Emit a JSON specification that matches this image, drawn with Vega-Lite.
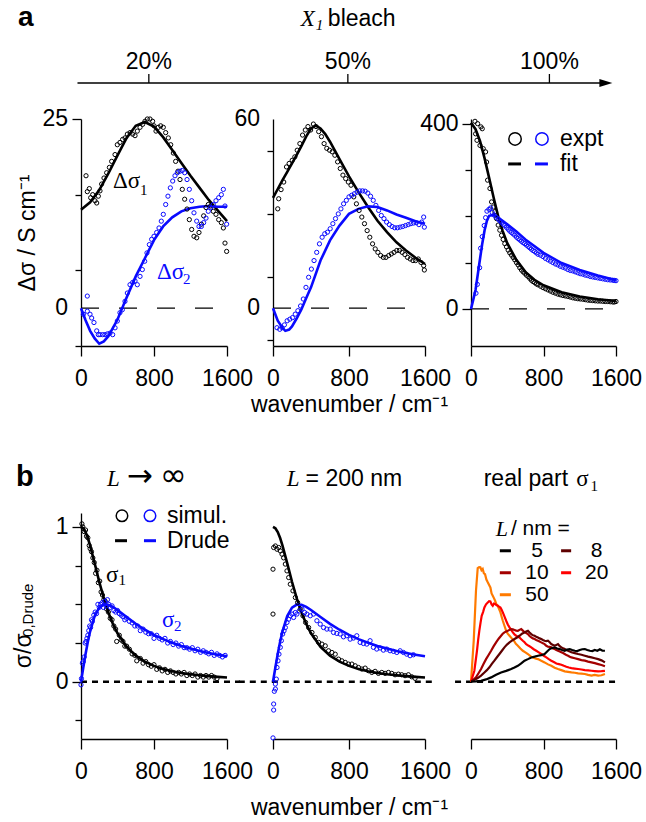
{
"$schema": "https://vega.github.io/schema/vega-lite/v6.json",
"padding": {"left": 12, "top": 3, "right": 2, "bottom": 2},
"background": "white",
"config": {
 "view": {"stroke": null},
 "font": "Liberation Sans",
 "point": {"opacity": 1},
 "text": {"font": "Liberation Sans", "fontSize": 23, "color": "black"},
 "axis": {"domainColor": "black", "domainWidth": 1.3, "tickColor": "black", "tickWidth": 1.3, "labelColor": "black", "labelFont": "Liberation Sans", "labelFontSize": 23, "titleFont": "Liberation Sans", "titleFontSize": 23, "titleFontWeight": "normal", "titleColor": "black", "grid": false}
},
"datasets": {
 "a1": [
  {"s":"e1","x":55,"y":17.5},{"s":"e1","x":69,"y":15.4},{"s":"e1","x":91,"y":15.8},{"s":"e1","x":106,"y":14.6},{"s":"e1","x":128,"y":15.0},{"s":"e1","x":153,"y":14.2},{"s":"e1","x":172,"y":13.9},{"s":"e1","x":190,"y":14.8},{"s":"e1","x":208,"y":15.5},{"s":"e1","x":226,"y":16.4},{"s":"e1","x":252,"y":17.2},{"s":"e1","x":281,"y":17.9},{"s":"e1","x":311,"y":18.6},{"s":"e1","x":336,"y":19.4},{"s":"e1","x":373,"y":20.3},{"s":"e1","x":398,"y":21.6},{"s":"e1","x":427,"y":21.9},{"s":"e1","x":456,"y":22.3},{"s":"e1","x":482,"y":22.5},{"s":"e1","x":508,"y":23.0},{"s":"e1","x":537,"y":23.2},{"s":"e1","x":566,"y":23.0},{"s":"e1","x":592,"y":22.8},{"s":"e1","x":617,"y":23.4},{"s":"e1","x":647,"y":23.9},{"s":"e1","x":676,"y":24.3},{"s":"e1","x":701,"y":24.7},{"s":"e1","x":727,"y":25.0},{"s":"e1","x":756,"y":25.0},{"s":"e1","x":785,"y":24.7},{"s":"e1","x":800,"y":24.1},{"s":"e1","x":822,"y":23.4},{"s":"e1","x":847,"y":23.9},{"s":"e1","x":873,"y":24.1},{"s":"e1","x":902,"y":23.9},{"s":"e1","x":928,"y":23.2},{"s":"e1","x":957,"y":22.5},{"s":"e1","x":983,"y":21.6},{"s":"e1","x":1012,"y":20.5},{"s":"e1","x":1037,"y":19.4},{"s":"e1","x":1063,"y":18.1},{"s":"e1","x":1085,"y":17.0},{"s":"e1","x":1110,"y":15.7},{"s":"e1","x":1136,"y":14.4},{"s":"e1","x":1162,"y":13.1},{"s":"e1","x":1187,"y":11.7},{"s":"e1","x":1213,"y":10.4},{"s":"e1","x":1238,"y":9.5},{"s":"e1","x":1268,"y":9.3},{"s":"e1","x":1293,"y":10.0},{"s":"e1","x":1319,"y":11.1},{"s":"e1","x":1344,"y":12.2},{"s":"e1","x":1370,"y":13.3},{"s":"e1","x":1395,"y":13.7},{"s":"e1","x":1421,"y":13.5},{"s":"e1","x":1450,"y":12.8},{"s":"e1","x":1479,"y":12.4},{"s":"e1","x":1509,"y":11.7},{"s":"e1","x":1538,"y":11.3},{"s":"e1","x":1560,"y":10.6},{"s":"e1","x":1578,"y":8.6},{"s":"e1","x":1596,"y":7.5},
  {"s":"e2","x":26,"y":-0.8},{"s":"e2","x":69,"y":1.6},{"s":"e2","x":69,"y":-0.4},{"s":"e2","x":99,"y":-0.8},{"s":"e2","x":117,"y":-1.3},{"s":"e2","x":142,"y":-1.9},{"s":"e2","x":172,"y":-3.0},{"s":"e2","x":190,"y":-3.5},{"s":"e2","x":208,"y":-3.5},{"s":"e2","x":237,"y":-3.5},{"s":"e2","x":263,"y":-3.5},{"s":"e2","x":289,"y":-3.4},{"s":"e2","x":318,"y":-3.3},{"s":"e2","x":347,"y":-3.5},{"s":"e2","x":373,"y":-2.6},{"s":"e2","x":398,"y":-1.7},{"s":"e2","x":427,"y":-0.6},{"s":"e2","x":453,"y":-0.2},{"s":"e2","x":482,"y":0.9},{"s":"e2","x":508,"y":2.0},{"s":"e2","x":537,"y":3.1},{"s":"e2","x":566,"y":3.4},{"s":"e2","x":592,"y":3.6},{"s":"e2","x":617,"y":3.1},{"s":"e2","x":647,"y":4.2},{"s":"e2","x":672,"y":5.1},{"s":"e2","x":698,"y":6.2},{"s":"e2","x":723,"y":7.3},{"s":"e2","x":749,"y":8.4},{"s":"e2","x":774,"y":9.1},{"s":"e2","x":800,"y":9.5},{"s":"e2","x":829,"y":10.0},{"s":"e2","x":855,"y":10.6},{"s":"e2","x":880,"y":11.5},{"s":"e2","x":902,"y":12.4},{"s":"e2","x":928,"y":13.7},{"s":"e2","x":953,"y":14.8},{"s":"e2","x":979,"y":15.9},{"s":"e2","x":1005,"y":16.8},{"s":"e2","x":1030,"y":17.5},{"s":"e2","x":1056,"y":17.9},{"s":"e2","x":1085,"y":18.1},{"s":"e2","x":1110,"y":18.2},{"s":"e2","x":1136,"y":17.9},{"s":"e2","x":1162,"y":17.0},{"s":"e2","x":1187,"y":15.7},{"s":"e2","x":1213,"y":14.2},{"s":"e2","x":1238,"y":12.6},{"s":"e2","x":1268,"y":11.5},{"s":"e2","x":1293,"y":10.8},{"s":"e2","x":1319,"y":10.8},{"s":"e2","x":1344,"y":11.3},{"s":"e2","x":1370,"y":11.9},{"s":"e2","x":1395,"y":12.8},{"s":"e2","x":1421,"y":13.3},{"s":"e2","x":1450,"y":13.7},{"s":"e2","x":1479,"y":14.2},{"s":"e2","x":1509,"y":14.6},{"s":"e2","x":1538,"y":15.0},{"s":"e2","x":1560,"y":15.7},{"s":"e2","x":1578,"y":13.5},{"s":"e2","x":1596,"y":11.1},
  {"s":"f1","x":0,"y":13.0},{"s":"f1","x":100,"y":14.0},{"s":"f1","x":200,"y":15.6},{"s":"f1","x":300,"y":17.8},{"s":"f1","x":400,"y":20.2},{"s":"f1","x":500,"y":22.5},{"s":"f1","x":600,"y":24.1},{"s":"f1","x":700,"y":24.6},{"s":"f1","x":800,"y":24.0},{"s":"f1","x":900,"y":22.6},{"s":"f1","x":1000,"y":20.9},{"s":"f1","x":1100,"y":19.2},{"s":"f1","x":1200,"y":17.5},{"s":"f1","x":1300,"y":15.9},{"s":"f1","x":1400,"y":14.3},{"s":"f1","x":1500,"y":12.9},{"s":"f1","x":1600,"y":11.5},
  {"s":"f2","x":0,"y":0},{"s":"f2","x":50,"y":-1.6},{"s":"f2","x":100,"y":-3.0},{"s":"f2","x":150,"y":-4.0},{"s":"f2","x":200,"y":-4.7},{"s":"f2","x":250,"y":-4.4},{"s":"f2","x":300,"y":-3.7},{"s":"f2","x":400,"y":-1.5},{"s":"f2","x":500,"y":1.4},{"s":"f2","x":600,"y":4.2},{"s":"f2","x":700,"y":6.6},{"s":"f2","x":800,"y":9.0},{"s":"f2","x":900,"y":10.8},{"s":"f2","x":1000,"y":12.0},{"s":"f2","x":1100,"y":12.8},{"s":"f2","x":1200,"y":13.2},{"s":"f2","x":1300,"y":13.4},{"s":"f2","x":1400,"y":13.5},{"s":"f2","x":1500,"y":13.4},{"s":"f2","x":1600,"y":13.4}
 ],
 "a2": [
  {"s":"e1","x":50,"y":31.5},{"s":"e1","x":60,"y":34.7},{"s":"e1","x":85,"y":37.6},{"s":"e1","x":113,"y":40.0},{"s":"e1","x":142,"y":44.8},{"s":"e1","x":170,"y":45.9},{"s":"e1","x":202,"y":46.9},{"s":"e1","x":230,"y":48.0},{"s":"e1","x":255,"y":50.1},{"s":"e1","x":283,"y":52.2},{"s":"e1","x":311,"y":54.9},{"s":"e1","x":340,"y":56.5},{"s":"e1","x":368,"y":57.6},{"s":"e1","x":396,"y":56.5},{"s":"e1","x":425,"y":58.4},{"s":"e1","x":453,"y":57.6},{"s":"e1","x":481,"y":56.0},{"s":"e1","x":510,"y":54.4},{"s":"e1","x":538,"y":52.2},{"s":"e1","x":566,"y":50.7},{"s":"e1","x":595,"y":50.1},{"s":"e1","x":623,"y":49.6},{"s":"e1","x":651,"y":48.5},{"s":"e1","x":680,"y":46.4},{"s":"e1","x":708,"y":44.3},{"s":"e1","x":736,"y":42.2},{"s":"e1","x":765,"y":41.1},{"s":"e1","x":793,"y":40.0},{"s":"e1","x":821,"y":39.0},{"s":"e1","x":850,"y":35.3},{"s":"e1","x":878,"y":33.1},{"s":"e1","x":906,"y":31.0},{"s":"e1","x":935,"y":28.9},{"s":"e1","x":963,"y":26.8},{"s":"e1","x":991,"y":24.6},{"s":"e1","x":1019,"y":22.5},{"s":"e1","x":1048,"y":20.4},{"s":"e1","x":1076,"y":18.8},{"s":"e1","x":1104,"y":17.7},{"s":"e1","x":1133,"y":16.7},{"s":"e1","x":1161,"y":16.1},{"s":"e1","x":1189,"y":16.1},{"s":"e1","x":1218,"y":16.7},{"s":"e1","x":1246,"y":17.2},{"s":"e1","x":1274,"y":17.7},{"s":"e1","x":1303,"y":18.3},{"s":"e1","x":1331,"y":18.3},{"s":"e1","x":1359,"y":17.7},{"s":"e1","x":1388,"y":17.0},{"s":"e1","x":1416,"y":16.1},{"s":"e1","x":1444,"y":15.6},{"s":"e1","x":1473,"y":15.1},{"s":"e1","x":1501,"y":15.1},{"s":"e1","x":1529,"y":15.6},{"s":"e1","x":1558,"y":14.5},{"s":"e1","x":1586,"y":13.5},{"s":"e1","x":1593,"y":12.1},
  {"s":"e2","x":42,"y":-6.2},{"s":"e2","x":71,"y":-6.7},{"s":"e2","x":96,"y":-6.2},{"s":"e2","x":120,"y":-5.3},{"s":"e2","x":149,"y":-4.0},{"s":"e2","x":177,"y":-3.5},{"s":"e2","x":205,"y":-3.0},{"s":"e2","x":234,"y":-1.9},{"s":"e2","x":262,"y":-0.8},{"s":"e2","x":290,"y":0.7},{"s":"e2","x":319,"y":2.9},{"s":"e2","x":347,"y":6.6},{"s":"e2","x":375,"y":9.8},{"s":"e2","x":404,"y":12.4},{"s":"e2","x":432,"y":15.1},{"s":"e2","x":460,"y":17.7},{"s":"e2","x":489,"y":20.4},{"s":"e2","x":517,"y":22.5},{"s":"e2","x":545,"y":23.6},{"s":"e2","x":573,"y":24.1},{"s":"e2","x":602,"y":25.2},{"s":"e2","x":630,"y":26.8},{"s":"e2","x":658,"y":28.4},{"s":"e2","x":687,"y":29.9},{"s":"e2","x":715,"y":31.5},{"s":"e2","x":743,"y":33.1},{"s":"e2","x":772,"y":34.2},{"s":"e2","x":800,"y":35.3},{"s":"e2","x":828,"y":35.8},{"s":"e2","x":857,"y":36.3},{"s":"e2","x":885,"y":36.8},{"s":"e2","x":913,"y":37.2},{"s":"e2","x":942,"y":37.2},{"s":"e2","x":970,"y":37.1},{"s":"e2","x":998,"y":36.5},{"s":"e2","x":1027,"y":35.5},{"s":"e2","x":1055,"y":34.2},{"s":"e2","x":1083,"y":32.6},{"s":"e2","x":1112,"y":31.0},{"s":"e2","x":1140,"y":29.4},{"s":"e2","x":1168,"y":28.4},{"s":"e2","x":1196,"y":27.3},{"s":"e2","x":1225,"y":26.5},{"s":"e2","x":1253,"y":25.9},{"s":"e2","x":1281,"y":25.5},{"s":"e2","x":1310,"y":25.5},{"s":"e2","x":1338,"y":25.7},{"s":"e2","x":1366,"y":25.9},{"s":"e2","x":1395,"y":26.2},{"s":"e2","x":1423,"y":26.5},{"s":"e2","x":1451,"y":26.8},{"s":"e2","x":1480,"y":27.0},{"s":"e2","x":1508,"y":27.1},{"s":"e2","x":1536,"y":26.5},{"s":"e2","x":1565,"y":27.3},{"s":"e2","x":1586,"y":28.9},{"s":"e2","x":1593,"y":25.7},
  {"s":"f1","x":0,"y":35.0},{"s":"f1","x":50,"y":37.8},{"s":"f1","x":100,"y":40.6},{"s":"f1","x":150,"y":43.2},{"s":"f1","x":200,"y":45.9},{"s":"f1","x":250,"y":48.6},{"s":"f1","x":300,"y":51.5},{"s":"f1","x":350,"y":54.5},{"s":"f1","x":400,"y":57.0},{"s":"f1","x":450,"y":57.9},{"s":"f1","x":500,"y":57.0},{"s":"f1","x":550,"y":55.2},{"s":"f1","x":600,"y":52.8},{"s":"f1","x":700,"y":47.3},{"s":"f1","x":800,"y":41.8},{"s":"f1","x":900,"y":36.8},{"s":"f1","x":1000,"y":32.1},{"s":"f1","x":1100,"y":27.7},{"s":"f1","x":1200,"y":24.1},{"s":"f1","x":1300,"y":20.9},{"s":"f1","x":1400,"y":18.3},{"s":"f1","x":1500,"y":16.0},{"s":"f1","x":1600,"y":14.0},
  {"s":"f2","x":0,"y":0},{"s":"f2","x":50,"y":-4.0},{"s":"f2","x":100,"y":-6.3},{"s":"f2","x":130,"y":-7.2},{"s":"f2","x":170,"y":-6.8},{"s":"f2","x":200,"y":-5.8},{"s":"f2","x":250,"y":-3.2},{"s":"f2","x":300,"y":-0.3},{"s":"f2","x":350,"y":3.2},{"s":"f2","x":400,"y":6.6},{"s":"f2","x":500,"y":15.1},{"s":"f2","x":600,"y":21.5},{"s":"f2","x":700,"y":26.2},{"s":"f2","x":800,"y":29.9},{"s":"f2","x":900,"y":31.5},{"s":"f2","x":1000,"y":32.3},{"s":"f2","x":1100,"y":32.1},{"s":"f2","x":1200,"y":31.0},{"s":"f2","x":1300,"y":29.7},{"s":"f2","x":1400,"y":28.7},{"s":"f2","x":1500,"y":27.6},{"s":"f2","x":1600,"y":26.8}
 ],
 "a3": [
  {"s":"e1","x":44,"y":405},{"s":"e1","x":51,"y":378},{"s":"e1","x":66,"y":364},{"s":"e1","x":73,"y":400},{"s":"e1","x":99,"y":353},{"s":"e1","x":110,"y":393},{"s":"e1","x":124,"y":389},{"s":"e1","x":135,"y":346},{"s":"e1","x":161,"y":339},{"s":"e1","x":172,"y":317},{"s":"e1","x":183,"y":278},{"s":"e1","x":209,"y":260},{"s":"e1","x":227,"y":231},{"s":"e1","x":245,"y":220},{"s":"e1","x":264,"y":210},{"s":"e1","x":282,"y":195},{"s":"e1","x":300,"y":181},{"s":"e1","x":318,"y":170},{"s":"e1","x":337,"y":159},{"s":"e1","x":355,"y":150},{"s":"e1","x":373,"y":141},{"s":"e1","x":392,"y":134},{"s":"e1","x":410,"y":127},{"s":"e1","x":428,"y":121},{"s":"e1","x":447,"y":116},{"s":"e1","x":465,"y":111},{"s":"e1","x":483,"y":106},{"s":"e1","x":502,"y":100},{"s":"e1","x":520,"y":95},{"s":"e1","x":538,"y":89},{"s":"e1","x":557,"y":84},{"s":"e1","x":575,"y":80},{"s":"e1","x":593,"y":77},{"s":"e1","x":611,"y":73},{"s":"e1","x":630,"y":70},{"s":"e1","x":648,"y":66},{"s":"e1","x":666,"y":62},{"s":"e1","x":685,"y":59},{"s":"e1","x":703,"y":57},{"s":"e1","x":721,"y":54},{"s":"e1","x":740,"y":52},{"s":"e1","x":768,"y":49},{"s":"e1","x":795,"y":46},{"s":"e1","x":822,"y":43.5},{"s":"e1","x":850,"y":41},{"s":"e1","x":877,"y":38.5},{"s":"e1","x":904,"y":36},{"s":"e1","x":932,"y":34},{"s":"e1","x":959,"y":32},{"s":"e1","x":986,"y":30.5},{"s":"e1","x":1014,"y":29},{"s":"e1","x":1041,"y":28},{"s":"e1","x":1069,"y":27},{"s":"e1","x":1096,"y":25.5},{"s":"e1","x":1124,"y":24},{"s":"e1","x":1151,"y":23},{"s":"e1","x":1179,"y":22},{"s":"e1","x":1206,"y":21.5},{"s":"e1","x":1234,"y":21},{"s":"e1","x":1261,"y":20},{"s":"e1","x":1289,"y":19},{"s":"e1","x":1316,"y":18.5},{"s":"e1","x":1344,"y":18},{"s":"e1","x":1371,"y":17.5},{"s":"e1","x":1399,"y":17},{"s":"e1","x":1426,"y":17},{"s":"e1","x":1454,"y":16.5},{"s":"e1","x":1481,"y":16},{"s":"e1","x":1509,"y":16},{"s":"e1","x":1536,"y":15.5},{"s":"e1","x":1564,"y":15},{"s":"e1","x":1582,"y":15},{"s":"e1","x":1600,"y":16},
  {"s":"e2","x":55,"y":34},{"s":"e2","x":70,"y":53},{"s":"e2","x":95,"y":89},{"s":"e2","x":106,"y":131},{"s":"e2","x":124,"y":156},{"s":"e2","x":146,"y":180},{"s":"e2","x":161,"y":197},{"s":"e2","x":176,"y":211},{"s":"e2","x":198,"y":215},{"s":"e2","x":216,"y":218},{"s":"e2","x":234,"y":208},{"s":"e2","x":253,"y":203},{"s":"e2","x":275,"y":198},{"s":"e2","x":300,"y":194},{"s":"e2","x":318,"y":190},{"s":"e2","x":337,"y":187},{"s":"e2","x":355,"y":183},{"s":"e2","x":373,"y":180},{"s":"e2","x":392,"y":176},{"s":"e2","x":410,"y":172},{"s":"e2","x":428,"y":168},{"s":"e2","x":447,"y":165},{"s":"e2","x":465,"y":162},{"s":"e2","x":483,"y":159},{"s":"e2","x":502,"y":155},{"s":"e2","x":520,"y":152},{"s":"e2","x":538,"y":149},{"s":"e2","x":557,"y":146},{"s":"e2","x":575,"y":143},{"s":"e2","x":593,"y":141},{"s":"e2","x":611,"y":138},{"s":"e2","x":630,"y":135},{"s":"e2","x":648,"y":132},{"s":"e2","x":666,"y":129},{"s":"e2","x":685,"y":126},{"s":"e2","x":703,"y":124},{"s":"e2","x":721,"y":121},{"s":"e2","x":740,"y":118},{"s":"e2","x":768,"y":116},{"s":"e2","x":795,"y":113},{"s":"e2","x":822,"y":109},{"s":"e2","x":850,"y":106},{"s":"e2","x":877,"y":103},{"s":"e2","x":904,"y":100},{"s":"e2","x":932,"y":97},{"s":"e2","x":959,"y":95},{"s":"e2","x":986,"y":92},{"s":"e2","x":1014,"y":90},{"s":"e2","x":1041,"y":88},{"s":"e2","x":1069,"y":85},{"s":"e2","x":1096,"y":83},{"s":"e2","x":1124,"y":82},{"s":"e2","x":1151,"y":80},{"s":"e2","x":1179,"y":78},{"s":"e2","x":1206,"y":76},{"s":"e2","x":1234,"y":75},{"s":"e2","x":1261,"y":73},{"s":"e2","x":1289,"y":72},{"s":"e2","x":1316,"y":70},{"s":"e2","x":1344,"y":69},{"s":"e2","x":1371,"y":68},{"s":"e2","x":1399,"y":67},{"s":"e2","x":1426,"y":66},{"s":"e2","x":1454,"y":65},{"s":"e2","x":1481,"y":64},{"s":"e2","x":1509,"y":63},{"s":"e2","x":1536,"y":62.5},{"s":"e2","x":1564,"y":62},{"s":"e2","x":1582,"y":61.5},{"s":"e2","x":1600,"y":61},
  {"s":"f1","x":0,"y":402},{"s":"f1","x":50,"y":388},{"s":"f1","x":100,"y":362},{"s":"f1","x":150,"y":325},{"s":"f1","x":200,"y":283},{"s":"f1","x":250,"y":240},{"s":"f1","x":300,"y":200},{"s":"f1","x":350,"y":168},{"s":"f1","x":400,"y":142},{"s":"f1","x":500,"y":106},{"s":"f1","x":600,"y":80},{"s":"f1","x":700,"y":63},{"s":"f1","x":800,"y":51},{"s":"f1","x":1000,"y":36},{"s":"f1","x":1200,"y":27},{"s":"f1","x":1400,"y":21},{"s":"f1","x":1600,"y":17},
  {"s":"f2","x":0,"y":0},{"s":"f2","x":25,"y":20},{"s":"f2","x":50,"y":41},{"s":"f2","x":75,"y":75},{"s":"f2","x":100,"y":109},{"s":"f2","x":125,"y":142},{"s":"f2","x":150,"y":170},{"s":"f2","x":175,"y":190},{"s":"f2","x":200,"y":201},{"s":"f2","x":250,"y":203},{"s":"f2","x":300,"y":197},{"s":"f2","x":400,"y":183},{"s":"f2","x":500,"y":167},{"s":"f2","x":600,"y":150},{"s":"f2","x":800,"y":121},{"s":"f2","x":1000,"y":99},{"s":"f2","x":1200,"y":84},{"s":"f2","x":1400,"y":72},{"s":"f2","x":1600,"y":62}
 ],
 "drude": [
  {"s":"f1","x":0,"y":1},{"s":"f1","x":25,"y":0.9915},{"s":"f1","x":50,"y":0.9668},{"s":"f1","x":75,"y":0.9284},{"s":"f1","x":100,"y":0.8794},{"s":"f1","x":150,"y":0.7642},{"s":"f1","x":200,"y":0.6457},{"s":"f1","x":250,"y":0.5384},{"s":"f1","x":300,"y":0.4475},{"s":"f1","x":350,"y":0.3731},{"s":"f1","x":400,"y":0.313},{"s":"f1","x":500,"y":0.2258},{"s":"f1","x":600,"y":0.1684},{"s":"f1","x":700,"y":0.1295},{"s":"f1","x":800,"y":0.1023},{"s":"f1","x":900,"y":0.0826},{"s":"f1","x":1000,"y":0.0679},{"s":"f1","x":1100,"y":0.0568},{"s":"f1","x":1200,"y":0.0482},{"s":"f1","x":1300,"y":0.0414},{"s":"f1","x":1400,"y":0.0359},{"s":"f1","x":1500,"y":0.0314},{"s":"f1","x":1600,"y":0.0277},
  {"s":"f2","x":0,"y":0},{"s":"f2","x":25,"y":0.0918},{"s":"f2","x":50,"y":0.1791},{"s":"f2","x":75,"y":0.2579},{"s":"f2","x":100,"y":0.3257},{"s":"f2","x":150,"y":0.4246},{"s":"f2","x":200,"y":0.4783},{"s":"f2","x":250,"y":0.4985},{"s":"f2","x":300,"y":0.4972},{"s":"f2","x":350,"y":0.4837},{"s":"f2","x":400,"y":0.4637},{"s":"f2","x":500,"y":0.4181},{"s":"f2","x":600,"y":0.3742},{"s":"f2","x":700,"y":0.3358},{"s":"f2","x":800,"y":0.303},{"s":"f2","x":900,"y":0.2752},{"s":"f2","x":1000,"y":0.2517},{"s":"f2","x":1100,"y":0.2315},{"s":"f2","x":1200,"y":0.2142},{"s":"f2","x":1300,"y":0.1991},{"s":"f2","x":1400,"y":0.1859},{"s":"f2","x":1500,"y":0.1743},{"s":"f2","x":1600,"y":0.1641}
 ],
 "b1": [
  {"s":"e1","x":10,"y":1.02},{"s":"e1","x":20,"y":1.0},{"s":"e1","x":35,"y":0.97},{"s":"e1","x":50,"y":0.98},{"s":"e1","x":60,"y":0.94},{"s":"e1","x":75,"y":0.93},{"s":"e1","x":90,"y":0.88},{"s":"e1","x":100,"y":0.86},{"s":"e1","x":115,"y":0.84},{"s":"e1","x":130,"y":0.8},{"s":"e1","x":145,"y":0.77},{"s":"e1","x":160,"y":0.7},{"s":"e1","x":175,"y":0.72},{"s":"e1","x":190,"y":0.64},{"s":"e1","x":205,"y":0.65},{"s":"e1","x":220,"y":0.58},{"s":"e1","x":235,"y":0.56},{"s":"e1","x":250,"y":0.53},{"s":"e1","x":265,"y":0.52},{"s":"e1","x":280,"y":0.47},{"s":"e1","x":300,"y":0.45},{"s":"e1","x":320,"y":0.41},{"s":"e1","x":340,"y":0.4},{"s":"e1","x":360,"y":0.36},{"s":"e1","x":380,"y":0.34},{"s":"e1","x":391,"y":0.26},{"s":"e1","x":420,"y":0.3},{"s":"e1","x":440,"y":0.27},{"s":"e1","x":460,"y":0.26},{"s":"e1","x":480,"y":0.23},{"s":"e1","x":500,"y":0.23},{"s":"e1","x":530,"y":0.21},{"s":"e1","x":560,"y":0.18},{"s":"e1","x":590,"y":0.17},{"s":"e1","x":611,"y":0.135},{"s":"e1","x":650,"y":0.15},{"s":"e1","x":680,"y":0.12},{"s":"e1","x":710,"y":0.13},{"s":"e1","x":740,"y":0.11},{"s":"e1","x":770,"y":0.1},{"s":"e1","x":800,"y":0.11},{"s":"e1","x":830,"y":0.08},{"s":"e1","x":860,"y":0.09},{"s":"e1","x":890,"y":0.07},{"s":"e1","x":920,"y":0.08},{"s":"e1","x":950,"y":0.06},{"s":"e1","x":980,"y":0.07},{"s":"e1","x":1010,"y":0.06},{"s":"e1","x":1040,"y":0.05},{"s":"e1","x":1070,"y":0.06},{"s":"e1","x":1100,"y":0.05},{"s":"e1","x":1130,"y":0.06},{"s":"e1","x":1160,"y":0.04},{"s":"e1","x":1190,"y":0.05},{"s":"e1","x":1220,"y":0.04},{"s":"e1","x":1250,"y":0.05},{"s":"e1","x":1280,"y":0.03},{"s":"e1","x":1310,"y":0.04},{"s":"e1","x":1340,"y":0.03},{"s":"e1","x":1370,"y":0.04},{"s":"e1","x":1400,"y":0.03},{"s":"e1","x":1430,"y":0.04},{"s":"e1","x":1460,"y":0.03},{"s":"e1","x":1490,"y":0.02},
  {"s":"e2","x":0,"y":-0.02},{"s":"e2","x":5,"y":0.02},{"s":"e2","x":15,"y":0.12},{"s":"e2","x":25,"y":0.13},{"s":"e2","x":35,"y":0.16},{"s":"e2","x":45,"y":0.25},{"s":"e2","x":55,"y":0.26},{"s":"e2","x":65,"y":0.28},{"s":"e2","x":75,"y":0.3},{"s":"e2","x":85,"y":0.33},{"s":"e2","x":95,"y":0.36},{"s":"e2","x":105,"y":0.35},{"s":"e2","x":115,"y":0.4},{"s":"e2","x":125,"y":0.39},{"s":"e2","x":140,"y":0.43},{"s":"e2","x":155,"y":0.45},{"s":"e2","x":170,"y":0.44},{"s":"e2","x":185,"y":0.5},{"s":"e2","x":200,"y":0.48},{"s":"e2","x":215,"y":0.5},{"s":"e2","x":230,"y":0.51},{"s":"e2","x":245,"y":0.48},{"s":"e2","x":260,"y":0.52},{"s":"e2","x":275,"y":0.49},{"s":"e2","x":290,"y":0.53},{"s":"e2","x":305,"y":0.5},{"s":"e2","x":320,"y":0.48},{"s":"e2","x":340,"y":0.49},{"s":"e2","x":360,"y":0.46},{"s":"e2","x":380,"y":0.45},{"s":"e2","x":400,"y":0.46},{"s":"e2","x":420,"y":0.44},{"s":"e2","x":440,"y":0.43},{"s":"e2","x":460,"y":0.42},{"s":"e2","x":480,"y":0.4},{"s":"e2","x":500,"y":0.41},{"s":"e2","x":530,"y":0.39},{"s":"e2","x":560,"y":0.38},{"s":"e2","x":590,"y":0.36},{"s":"e2","x":620,"y":0.36},{"s":"e2","x":650,"y":0.33},{"s":"e2","x":680,"y":0.34},{"s":"e2","x":710,"y":0.32},{"s":"e2","x":740,"y":0.31},{"s":"e2","x":770,"y":0.31},{"s":"e2","x":800,"y":0.28},{"s":"e2","x":830,"y":0.3},{"s":"e2","x":860,"y":0.28},{"s":"e2","x":890,"y":0.27},{"s":"e2","x":920,"y":0.28},{"s":"e2","x":950,"y":0.25},{"s":"e2","x":980,"y":0.26},{"s":"e2","x":1010,"y":0.24},{"s":"e2","x":1040,"y":0.25},{"s":"e2","x":1070,"y":0.23},{"s":"e2","x":1100,"y":0.24},{"s":"e2","x":1130,"y":0.22},{"s":"e2","x":1160,"y":0.22},{"s":"e2","x":1190,"y":0.21},{"s":"e2","x":1220,"y":0.22},{"s":"e2","x":1250,"y":0.2},{"s":"e2","x":1280,"y":0.21},{"s":"e2","x":1310,"y":0.19},{"s":"e2","x":1340,"y":0.2},{"s":"e2","x":1370,"y":0.19},{"s":"e2","x":1400,"y":0.18},{"s":"e2","x":1430,"y":0.19},{"s":"e2","x":1460,"y":0.17},{"s":"e2","x":1490,"y":0.18},{"s":"e2","x":1520,"y":0.17},{"s":"e2","x":1550,"y":0.16},{"s":"e2","x":1580,"y":0.17}
 ],
 "b2": [
  {"s":"e1","x":0,"y":0.727},{"s":"e1","x":0,"y":0.437},{"s":"e1","x":7,"y":0.867},{"s":"e1","x":25,"y":0.877},{"s":"e1","x":42,"y":0.856},{"s":"e1","x":60,"y":0.867},{"s":"e1","x":77,"y":0.845},{"s":"e1","x":95,"y":0.824},{"s":"e1","x":112,"y":0.8},{"s":"e1","x":130,"y":0.76},{"s":"e1","x":147,"y":0.716},{"s":"e1","x":165,"y":0.673},{"s":"e1","x":182,"y":0.63},{"s":"e1","x":210,"y":0.587},{"s":"e1","x":235,"y":0.544},{"s":"e1","x":259,"y":0.512},{"s":"e1","x":287,"y":0.469},{"s":"e1","x":315,"y":0.426},{"s":"e1","x":343,"y":0.383},{"s":"e1","x":375,"y":0.35},{"s":"e1","x":410,"y":0.318},{"s":"e1","x":445,"y":0.286},{"s":"e1","x":480,"y":0.254},{"s":"e1","x":515,"y":0.243},{"s":"e1","x":550,"y":0.232},{"s":"e1","x":585,"y":0.2},{"s":"e1","x":620,"y":0.189},{"s":"e1","x":655,"y":0.178},{"s":"e1","x":690,"y":0.146},{"s":"e1","x":725,"y":0.135},{"s":"e1","x":760,"y":0.125},{"s":"e1","x":795,"y":0.114},{"s":"e1","x":830,"y":0.114},{"s":"e1","x":865,"y":0.103},{"s":"e1","x":900,"y":0.092},{"s":"e1","x":935,"y":0.082},{"s":"e1","x":970,"y":0.088},{"s":"e1","x":1005,"y":0.071},{"s":"e1","x":1040,"y":0.06},{"s":"e1","x":1075,"y":0.067},{"s":"e1","x":1110,"y":0.054},{"s":"e1","x":1145,"y":0.06},{"s":"e1","x":1180,"y":0.054},{"s":"e1","x":1215,"y":0.06},{"s":"e1","x":1250,"y":0.054},{"s":"e1","x":1285,"y":0.045},{"s":"e1","x":1320,"y":0.049},{"s":"e1","x":1355,"y":0.045},{"s":"e1","x":1390,"y":0.039},{"s":"e1","x":1425,"y":0.045},{"s":"e1","x":1460,"y":0.032},{"s":"e1","x":1495,"y":0.022},
  {"s":"e2","x":0,"y":-0.363},{"s":"e2","x":7,"y":-0.183},{"s":"e2","x":7,"y":-0.144},{"s":"e2","x":14,"y":-0.062},{"s":"e2","x":25,"y":-0.047},{"s":"e2","x":25,"y":-0.015},{"s":"e2","x":35,"y":0.017},{"s":"e2","x":42,"y":0.092},{"s":"e2","x":53,"y":0.135},{"s":"e2","x":63,"y":0.178},{"s":"e2","x":77,"y":0.222},{"s":"e2","x":88,"y":0.265},{"s":"e2","x":102,"y":0.308},{"s":"e2","x":116,"y":0.329},{"s":"e2","x":130,"y":0.35},{"s":"e2","x":147,"y":0.383},{"s":"e2","x":165,"y":0.404},{"s":"e2","x":182,"y":0.426},{"s":"e2","x":200,"y":0.437},{"s":"e2","x":217,"y":0.415},{"s":"e2","x":235,"y":0.447},{"s":"e2","x":252,"y":0.437},{"s":"e2","x":277,"y":0.458},{"s":"e2","x":305,"y":0.469},{"s":"e2","x":333,"y":0.447},{"s":"e2","x":357,"y":0.437},{"s":"e2","x":392,"y":0.426},{"s":"e2","x":427,"y":0.437},{"s":"e2","x":462,"y":0.394},{"s":"e2","x":497,"y":0.372},{"s":"e2","x":532,"y":0.35},{"s":"e2","x":567,"y":0.34},{"s":"e2","x":602,"y":0.34},{"s":"e2","x":637,"y":0.318},{"s":"e2","x":672,"y":0.312},{"s":"e2","x":707,"y":0.308},{"s":"e2","x":742,"y":0.29},{"s":"e2","x":777,"y":0.297},{"s":"e2","x":812,"y":0.275},{"s":"e2","x":847,"y":0.282},{"s":"e2","x":882,"y":0.297},{"s":"e2","x":917,"y":0.254},{"s":"e2","x":952,"y":0.247},{"s":"e2","x":987,"y":0.243},{"s":"e2","x":1022,"y":0.265},{"s":"e2","x":1057,"y":0.222},{"s":"e2","x":1092,"y":0.211},{"s":"e2","x":1127,"y":0.218},{"s":"e2","x":1162,"y":0.204},{"s":"e2","x":1197,"y":0.211},{"s":"e2","x":1232,"y":0.2},{"s":"e2","x":1268,"y":0.196},{"s":"e2","x":1303,"y":0.189},{"s":"e2","x":1338,"y":0.2},{"s":"e2","x":1373,"y":0.189},{"s":"e2","x":1408,"y":0.178},{"s":"e2","x":1443,"y":0.168},{"s":"e2","x":1478,"y":0.174}
 ],
 "b3": [
  {"s":"50","x":0,"y":0},{"s":"50","x":30,"y":0.265},{"s":"50","x":55,"y":0.588},{"s":"50","x":74,"y":0.734},{"s":"50","x":90,"y":0.74},{"s":"50","x":103,"y":0.739},{"s":"50","x":116,"y":0.72},{"s":"50","x":129,"y":0.728},{"s":"50","x":142,"y":0.7},{"s":"50","x":155,"y":0.695},{"s":"50","x":170,"y":0.66},{"s":"50","x":185,"y":0.642},{"s":"50","x":200,"y":0.625},{"s":"50","x":214,"y":0.609},{"s":"50","x":227,"y":0.57},{"s":"50","x":240,"y":0.556},{"s":"50","x":253,"y":0.54},{"s":"50","x":266,"y":0.523},{"s":"50","x":280,"y":0.5},{"s":"50","x":295,"y":0.491},{"s":"50","x":310,"y":0.47},{"s":"50","x":325,"y":0.448},{"s":"50","x":338,"y":0.42},{"s":"50","x":351,"y":0.394},{"s":"50","x":370,"y":0.36},{"s":"50","x":388,"y":0.329},{"s":"50","x":405,"y":0.31},{"s":"50","x":425,"y":0.297},{"s":"50","x":450,"y":0.28},{"s":"50","x":473,"y":0.265},{"s":"50","x":495,"y":0.245},{"s":"50","x":517,"y":0.233},{"s":"50","x":545,"y":0.215},{"s":"50","x":572,"y":0.2},{"s":"50","x":600,"y":0.19},{"s":"50","x":628,"y":0.179},{"s":"50","x":655,"y":0.165},{"s":"50","x":683,"y":0.157},{"s":"50","x":710,"y":0.15},{"s":"50","x":739,"y":0.146},{"s":"50","x":775,"y":0.135},{"s":"50","x":812,"y":0.125},{"s":"50","x":850,"y":0.112},{"s":"50","x":886,"y":0.103},{"s":"50","x":923,"y":0.09},{"s":"50","x":960,"y":0.082},{"s":"50","x":997,"y":0.075},{"s":"50","x":1034,"y":0.067},{"s":"50","x":1071,"y":0.064},{"s":"50","x":1108,"y":0.06},{"s":"50","x":1145,"y":0.058},{"s":"50","x":1182,"y":0.054},{"s":"50","x":1219,"y":0.052},{"s":"50","x":1256,"y":0.05},{"s":"50","x":1292,"y":0.044},{"s":"50","x":1329,"y":0.039},{"s":"50","x":1366,"y":0.044},{"s":"50","x":1403,"y":0.039},{"s":"50","x":1440,"y":0.042},{"s":"50","x":1478,"y":0.05},
  {"s":"20","x":0,"y":0},{"s":"20","x":37,"y":0.071},{"s":"20","x":66,"y":0.2},{"s":"20","x":79,"y":0.27},{"s":"20","x":92,"y":0.33},{"s":"20","x":105,"y":0.38},{"s":"20","x":118,"y":0.426},{"s":"20","x":133,"y":0.45},{"s":"20","x":148,"y":0.48},{"s":"20","x":166,"y":0.5},{"s":"20","x":185,"y":0.512},{"s":"20","x":200,"y":0.52},{"s":"20","x":214,"y":0.519},{"s":"20","x":227,"y":0.5},{"s":"20","x":240,"y":0.491},{"s":"20","x":253,"y":0.505},{"s":"20","x":266,"y":0.502},{"s":"20","x":280,"y":0.495},{"s":"20","x":295,"y":0.491},{"s":"20","x":310,"y":0.485},{"s":"20","x":325,"y":0.48},{"s":"20","x":338,"y":0.465},{"s":"20","x":351,"y":0.448},{"s":"20","x":370,"y":0.42},{"s":"20","x":388,"y":0.394},{"s":"20","x":406,"y":0.37},{"s":"20","x":425,"y":0.351},{"s":"20","x":443,"y":0.335},{"s":"20","x":462,"y":0.319},{"s":"20","x":480,"y":0.305},{"s":"20","x":499,"y":0.297},{"s":"20","x":517,"y":0.29},{"s":"20","x":535,"y":0.286},{"s":"20","x":554,"y":0.275},{"s":"20","x":572,"y":0.265},{"s":"20","x":591,"y":0.255},{"s":"20","x":609,"y":0.243},{"s":"20","x":637,"y":0.232},{"s":"20","x":665,"y":0.222},{"s":"20","x":692,"y":0.21},{"s":"20","x":720,"y":0.2},{"s":"20","x":748,"y":0.19},{"s":"20","x":775,"y":0.179},{"s":"20","x":803,"y":0.168},{"s":"20","x":831,"y":0.157},{"s":"20","x":858,"y":0.146},{"s":"20","x":886,"y":0.136},{"s":"20","x":914,"y":0.127},{"s":"20","x":942,"y":0.118},{"s":"20","x":970,"y":0.114},{"s":"20","x":997,"y":0.11},{"s":"20","x":1025,"y":0.103},{"s":"20","x":1052,"y":0.097},{"s":"20","x":1080,"y":0.092},{"s":"20","x":1108,"y":0.088},{"s":"20","x":1145,"y":0.085},{"s":"20","x":1182,"y":0.082},{"s":"20","x":1219,"y":0.079},{"s":"20","x":1256,"y":0.075},{"s":"20","x":1292,"y":0.073},{"s":"20","x":1329,"y":0.071},{"s":"20","x":1366,"y":0.069},{"s":"20","x":1403,"y":0.067},{"s":"20","x":1440,"y":0.068},{"s":"20","x":1478,"y":0.07},
  {"s":"10","x":0,"y":0},{"s":"10","x":55,"y":0.028},{"s":"10","x":83,"y":0.055},{"s":"10","x":111,"y":0.082},{"s":"10","x":138,"y":0.115},{"s":"10","x":166,"y":0.146},{"s":"10","x":194,"y":0.173},{"s":"10","x":222,"y":0.2},{"s":"10","x":249,"y":0.228},{"s":"10","x":277,"y":0.254},{"s":"10","x":305,"y":0.278},{"s":"10","x":332,"y":0.297},{"s":"10","x":350,"y":0.31},{"s":"10","x":369,"y":0.319},{"s":"10","x":388,"y":0.325},{"s":"10","x":406,"y":0.329},{"s":"10","x":425,"y":0.335},{"s":"10","x":443,"y":0.34},{"s":"10","x":462,"y":0.338},{"s":"10","x":480,"y":0.334},{"s":"10","x":499,"y":0.33},{"s":"10","x":517,"y":0.329},{"s":"10","x":535,"y":0.335},{"s":"10","x":554,"y":0.34},{"s":"10","x":572,"y":0.33},{"s":"10","x":591,"y":0.319},{"s":"10","x":609,"y":0.315},{"s":"10","x":628,"y":0.308},{"s":"10","x":646,"y":0.295},{"s":"10","x":665,"y":0.286},{"s":"10","x":683,"y":0.28},{"s":"10","x":702,"y":0.276},{"s":"10","x":720,"y":0.27},{"s":"10","x":739,"y":0.265},{"s":"10","x":757,"y":0.26},{"s":"10","x":775,"y":0.254},{"s":"10","x":794,"y":0.248},{"s":"10","x":812,"y":0.243},{"s":"10","x":831,"y":0.232},{"s":"10","x":849,"y":0.226},{"s":"10","x":868,"y":0.225},{"s":"10","x":886,"y":0.222},{"s":"10","x":905,"y":0.215},{"s":"10","x":923,"y":0.211},{"s":"10","x":942,"y":0.205},{"s":"10","x":960,"y":0.2},{"s":"10","x":979,"y":0.195},{"s":"10","x":997,"y":0.19},{"s":"10","x":1016,"y":0.185},{"s":"10","x":1034,"y":0.179},{"s":"10","x":1053,"y":0.172},{"s":"10","x":1071,"y":0.168},{"s":"10","x":1090,"y":0.162},{"s":"10","x":1108,"y":0.157},{"s":"10","x":1145,"y":0.152},{"s":"10","x":1182,"y":0.146},{"s":"10","x":1219,"y":0.14},{"s":"10","x":1256,"y":0.136},{"s":"10","x":1292,"y":0.13},{"s":"10","x":1329,"y":0.125},{"s":"10","x":1366,"y":0.12},{"s":"10","x":1403,"y":0.114},{"s":"10","x":1440,"y":0.108},{"s":"10","x":1478,"y":0.1},
  {"s":"8","x":0,"y":0},{"s":"8","x":74,"y":0.024},{"s":"8","x":111,"y":0.04},{"s":"8","x":148,"y":0.06},{"s":"8","x":175,"y":0.075},{"s":"8","x":203,"y":0.093},{"s":"8","x":230,"y":0.115},{"s":"8","x":258,"y":0.136},{"s":"8","x":286,"y":0.158},{"s":"8","x":314,"y":0.179},{"s":"8","x":341,"y":0.2},{"s":"8","x":369,"y":0.222},{"s":"8","x":397,"y":0.24},{"s":"8","x":425,"y":0.254},{"s":"8","x":452,"y":0.265},{"s":"8","x":480,"y":0.276},{"s":"8","x":508,"y":0.286},{"s":"8","x":535,"y":0.297},{"s":"8","x":563,"y":0.31},{"s":"8","x":591,"y":0.319},{"s":"8","x":609,"y":0.325},{"s":"8","x":628,"y":0.329},{"s":"8","x":646,"y":0.318},{"s":"8","x":665,"y":0.308},{"s":"8","x":683,"y":0.3},{"s":"8","x":702,"y":0.297},{"s":"8","x":720,"y":0.29},{"s":"8","x":739,"y":0.286},{"s":"8","x":757,"y":0.28},{"s":"8","x":775,"y":0.276},{"s":"8","x":794,"y":0.27},{"s":"8","x":812,"y":0.265},{"s":"8","x":831,"y":0.262},{"s":"8","x":849,"y":0.265},{"s":"8","x":868,"y":0.255},{"s":"8","x":886,"y":0.243},{"s":"8","x":905,"y":0.238},{"s":"8","x":923,"y":0.233},{"s":"8","x":942,"y":0.238},{"s":"8","x":960,"y":0.243},{"s":"8","x":979,"y":0.23},{"s":"8","x":997,"y":0.222},{"s":"8","x":1016,"y":0.216},{"s":"8","x":1034,"y":0.211},{"s":"8","x":1053,"y":0.205},{"s":"8","x":1071,"y":0.2},{"s":"8","x":1090,"y":0.195},{"s":"8","x":1108,"y":0.19},{"s":"8","x":1145,"y":0.185},{"s":"8","x":1182,"y":0.179},{"s":"8","x":1219,"y":0.174},{"s":"8","x":1256,"y":0.168},{"s":"8","x":1292,"y":0.162},{"s":"8","x":1329,"y":0.157},{"s":"8","x":1366,"y":0.152},{"s":"8","x":1403,"y":0.146},{"s":"8","x":1440,"y":0.138},{"s":"8","x":1478,"y":0.125},
  {"s":"5","x":0,"y":0},{"s":"5","x":55,"y":0.002},{"s":"5","x":111,"y":0.006},{"s":"5","x":166,"y":0.015},{"s":"5","x":222,"y":0.028},{"s":"5","x":277,"y":0.045},{"s":"5","x":332,"y":0.06},{"s":"5","x":388,"y":0.07},{"s":"5","x":443,"y":0.082},{"s":"5","x":480,"y":0.092},{"s":"5","x":517,"y":0.103},{"s":"5","x":554,"y":0.118},{"s":"5","x":591,"y":0.136},{"s":"5","x":628,"y":0.146},{"s":"5","x":665,"y":0.157},{"s":"5","x":702,"y":0.162},{"s":"5","x":739,"y":0.168},{"s":"5","x":775,"y":0.172},{"s":"5","x":812,"y":0.179},{"s":"5","x":840,"y":0.195},{"s":"5","x":868,"y":0.211},{"s":"5","x":896,"y":0.218},{"s":"5","x":923,"y":0.222},{"s":"5","x":951,"y":0.215},{"s":"5","x":979,"y":0.211},{"s":"5","x":1006,"y":0.205},{"s":"5","x":1034,"y":0.2},{"s":"5","x":1062,"y":0.208},{"s":"5","x":1089,"y":0.211},{"s":"5","x":1117,"y":0.205},{"s":"5","x":1145,"y":0.2},{"s":"5","x":1172,"y":0.198},{"s":"5","x":1200,"y":0.205},{"s":"5","x":1228,"y":0.21},{"s":"5","x":1256,"y":0.211},{"s":"5","x":1283,"y":0.205},{"s":"5","x":1311,"y":0.2},{"s":"5","x":1339,"y":0.198},{"s":"5","x":1366,"y":0.205},{"s":"5","x":1394,"y":0.2},{"s":"5","x":1422,"y":0.21},{"s":"5","x":1450,"y":0.2},{"s":"5","x":1478,"y":0.2}
 ]
},
"spacing": 43,
"vconcat": [
 {"hconcat": [
  {"width": 146, "height": 227, "layer": [
   {"data": {"values": [{}]}, "mark": {"type": "rule", "strokeDash": [18, 20], "strokeWidth": 1.3, "color": "black"},
    "encoding": {
     "x": {"datum": 0, "type": "quantitative", "scale": {"domain": [0, 1600], "nice": false}, "axis": {"values": [0,200,400,600,800,1000,1200,1400,1600], "format": "d", "labelExpr": "datum.value % 800 === 0 ? datum.label : ''", "tickSize": {"condition": {"test": "datum.value % 800 === 0", "value": 10}, "value": 7}, "labelPadding": 11, "labelFlush": false, "labelOverlap": false, "title": null}},
     "x2": {"datum": 1600},
     "y": {"datum": 0, "type": "quantitative", "scale": {"domain": [-5, 25], "nice": false}, "axis": {"values": [-5,0,5,10,15,20,25], "labels": false, "tickSize": {"condition": {"test": "abs(datum.value) < 0.01 || abs(datum.value - 25) < 0.01", "value": 9}, "value": 6}, "title": "Δσ / S cm⁻¹", "titlePadding": 32}}}},
   {"data": {"name": "a1"}, "transform": [{"filter": {"field": "s", "oneOf": ["f1", "f2"]}}], "mark": {"type": "line", "strokeWidth": 2.6},
    "encoding": {"x": {"field": "x", "type": "quantitative"}, "y": {"field": "y", "type": "quantitative"}, "color": {"field": "s", "type": "nominal", "scale": {"domain": ["e1","e2","f1","f2"], "range": ["#000000","#0a0aff","#000000","#0a0aff"]}, "legend": null}}},
   {"data": {"name": "a1"}, "transform": [{"filter": {"field": "s", "oneOf": ["e1", "e2"]}}], "mark": {"type": "point", "shape": "circle", "filled": false, "size": 18, "strokeWidth": 1},
    "encoding": {"x": {"field": "x", "type": "quantitative"}, "y": {"field": "y", "type": "quantitative"}, "color": {"field": "s", "type": "nominal", "scale": {"domain": ["e1","e2","f1","f2"], "range": ["#000000","#0a0aff","#000000","#0a0aff"]}, "legend": null}}},
   {"data": {"values": [{}]}, "mark": {"type": "text", "text": "25", "fontSize": 23, "align": "right", "baseline": "middle", "color": "black"}, "encoding": {"x": {"datum": -142}, "y": {"datum": 25}}},
   {"data": {"values": [{}]}, "mark": {"type": "text", "text": "0", "fontSize": 23, "align": "right", "baseline": "middle", "color": "black"}, "encoding": {"x": {"datum": -142}, "y": {"datum": 0}}},
   {"data": {"values": [{}]}, "mark": {"type": "text", "text": "Δσ", "font": "Liberation Serif", "fontSize": 23, "align": "left", "baseline": "middle", "color": "black"}, "encoding": {"x": {"datum": 351}, "y": {"datum": 16.8}}},
   {"data": {"values": [{}]}, "mark": {"type": "text", "text": "1", "font": "Liberation Serif", "fontSize": 15, "align": "left", "baseline": "middle", "color": "black"}, "encoding": {"x": {"datum": 647}, "y": {"datum": 15.6}}},
   {"data": {"values": [{}]}, "mark": {"type": "text", "text": "Δσ", "font": "Liberation Serif", "fontSize": 23, "align": "left", "baseline": "middle", "color": "#0a0aff"}, "encoding": {"x": {"datum": 833}, "y": {"datum": 4.76}}},
   {"data": {"values": [{}]}, "mark": {"type": "text", "text": "2", "font": "Liberation Serif", "fontSize": 15, "align": "left", "baseline": "middle", "color": "#0a0aff"}, "encoding": {"x": {"datum": 1118}, "y": {"datum": 3.83}}}
  ]},
  {"width": 152, "height": 227, "resolve": {"scale": {"x": "independent"}, "axis": {"x": "independent"}}, "layer": [
   {"layer": [
    {"data": {"values": [{}]}, "mark": {"type": "rule", "strokeDash": [18, 20], "strokeWidth": 1.3, "color": "black"},
     "encoding": {
      "x": {"datum": 0, "type": "quantitative", "scale": {"domain": [0, 1600], "nice": false}, "axis": {"values": [0,200,400,600,800,1000,1200,1400,1600], "format": "d", "labelExpr": "datum.value % 800 === 0 ? datum.label : ''", "tickSize": {"condition": {"test": "datum.value % 800 === 0", "value": 10}, "value": 7}, "labelPadding": 11, "labelFlush": false, "labelOverlap": false, "title": "wavenumber / cm⁻¹", "titlePadding": 3}},
      "x2": {"datum": 1600},
      "y": {"datum": 0, "type": "quantitative", "scale": {"domain": [-12, 60], "nice": false}, "axis": {"values": [-10,0,10,20,30,40,50,60], "labels": false, "tickSize": {"condition": {"test": "abs(datum.value) < 0.01 || abs(datum.value - 60) < 0.01", "value": 9}, "value": 6}, "title": null}}}},
    {"data": {"name": "a2"}, "transform": [{"filter": {"field": "s", "oneOf": ["f1", "f2"]}}], "mark": {"type": "line", "strokeWidth": 2.6},
     "encoding": {"x": {"field": "x", "type": "quantitative"}, "y": {"field": "y", "type": "quantitative"}, "color": {"field": "s", "type": "nominal", "scale": {"domain": ["e1","e2","f1","f2"], "range": ["#000000","#0a0aff","#000000","#0a0aff"]}, "legend": null}}},
    {"data": {"name": "a2"}, "transform": [{"filter": {"field": "s", "oneOf": ["e1", "e2"]}}], "mark": {"type": "point", "shape": "circle", "filled": false, "size": 18, "strokeWidth": 1},
     "encoding": {"x": {"field": "x", "type": "quantitative"}, "y": {"field": "y", "type": "quantitative"}, "color": {"field": "s", "type": "nominal", "scale": {"domain": ["e1","e2","f1","f2"], "range": ["#000000","#0a0aff","#000000","#0a0aff"]}, "legend": null}}},
    {"data": {"values": [{}]}, "mark": {"type": "text", "text": "60", "fontSize": 23, "align": "right", "baseline": "middle", "color": "black"}, "encoding": {"x": {"datum": -137}, "y": {"datum": 60}}},
    {"data": {"values": [{}]}, "mark": {"type": "text", "text": "0", "fontSize": 23, "align": "right", "baseline": "middle", "color": "black"}, "encoding": {"x": {"datum": -137}, "y": {"datum": 0}}}
   ]},
   {"layer": [
    {"data": {"values": [{}]}, "mark": {"type": "rule", "strokeWidth": 1.3, "color": "black"},
     "encoding": {"x": {"datum": 13.13, "type": "quantitative", "scale": {"type": "pow", "exponent": 0.365, "domain": [36.68, 66.58], "nice": false, "zero": false}, "axis": null}, "x2": {"datum": 118.1}, "y": {"datum": 71.42}}},
    {"data": {"values": [{}]}, "mark": {"type": "point", "shape": "M-1,-0.6L1,0L-1,0.6Z", "filled": true, "size": 169, "color": "black", "strokeWidth": 0},
     "encoding": {"x": {"datum": 118.1, "type": "quantitative", "axis": null}, "y": {"datum": 71.42}}},
    {"data": {"values": [{"b": 20, "t": "20%"}, {"b": 50, "t": "50%"}, {"b": 100, "t": "100%"}]}, "mark": {"type": "rule", "strokeWidth": 1.3, "color": "black"},
     "encoding": {"x": {"field": "b", "type": "quantitative", "axis": null}, "y": {"datum": 71.42}, "y2": {"datum": 74.27}}},
    {"data": {"values": [{"b": 20, "t": "20%"}, {"b": 50, "t": "50%"}, {"b": 100, "t": "100%"}]}, "mark": {"type": "text", "fontSize": 23, "align": "center", "baseline": "middle", "color": "black"},
     "encoding": {"x": {"field": "b", "type": "quantitative", "axis": null}, "y": {"datum": 77.98}, "text": {"field": "t"}}},
    {"data": {"values": [{}]}, "mark": {"type": "text", "text": "X", "font": "Liberation Serif", "fontStyle": "italic", "fontSize": 23, "align": "right", "dx": -33, "baseline": "alphabetic", "color": "black"}, "encoding": {"x": {"datum": 50, "type": "quantitative", "axis": null}, "y": {"datum": 89.5}}},
    {"data": {"values": [{}]}, "mark": {"type": "text", "text": "1", "font": "Liberation Serif", "fontStyle": "italic", "fontSize": 15, "align": "left", "dx": -32, "baseline": "alphabetic", "color": "black"}, "encoding": {"x": {"datum": 50, "type": "quantitative", "axis": null}, "y": {"datum": 88.2}}},
    {"data": {"values": [{}]}, "mark": {"type": "text", "text": "bleach", "fontSize": 23, "align": "left", "dx": -20, "baseline": "alphabetic", "color": "black"}, "encoding": {"x": {"datum": 50, "type": "quantitative", "axis": null}, "y": {"datum": 89.5}}},
    {"data": {"values": [{}]}, "mark": {"type": "text", "text": "a", "fontSize": 28, "fontWeight": "bold", "align": "center", "baseline": "alphabetic", "color": "black"}, "encoding": {"x": {"datum": 9.25, "type": "quantitative", "axis": null}, "y": {"datum": 89.5}}}
   ]}
  ]},
  {"width": 145, "height": 227, "layer": [
   {"data": {"values": [{}]}, "mark": {"type": "rule", "strokeDash": [18, 20], "strokeWidth": 1.3, "color": "black"},
    "encoding": {
     "x": {"datum": 0, "type": "quantitative", "scale": {"domain": [0, 1600], "nice": false}, "axis": {"values": [0,200,400,600,800,1000,1200,1400,1600], "format": "d", "labelExpr": "datum.value % 800 === 0 ? datum.label : ''", "tickSize": {"condition": {"test": "datum.value % 800 === 0", "value": 10}, "value": 7}, "labelPadding": 11, "labelFlush": false, "labelOverlap": false, "title": null}},
     "x2": {"datum": 1600},
     "y": {"datum": 0, "type": "quantitative", "scale": {"domain": [-80, 410], "nice": false}, "axis": {"values": [0,100,200,300,400], "labelExpr": "abs(datum.value) < 0.01 ? '0' : abs(datum.value - 400) < 0.01 ? '400' : ''", "tickSize": {"condition": {"test": "abs(datum.value) < 0.01 || abs(datum.value - 400) < 0.01", "value": 9}, "value": 6}, "labelPadding": 4, "labelOverlap": false, "title": null}}}},
   {"data": {"name": "a3"}, "transform": [{"filter": {"field": "s", "oneOf": ["f1", "f2"]}}], "mark": {"type": "line", "strokeWidth": 2.6},
    "encoding": {"x": {"field": "x", "type": "quantitative"}, "y": {"field": "y", "type": "quantitative"}, "color": {"field": "s", "type": "nominal", "scale": {"domain": ["e1","e2","f1","f2"], "range": ["#000000","#0a0aff","#000000","#0a0aff"]}, "legend": null}}},
   {"data": {"name": "a3"}, "transform": [{"filter": {"field": "s", "oneOf": ["e1", "e2"]}}], "mark": {"type": "point", "shape": "circle", "filled": false, "size": 18, "strokeWidth": 1},
    "encoding": {"x": {"field": "x", "type": "quantitative"}, "y": {"field": "y", "type": "quantitative"}, "color": {"field": "s", "type": "nominal", "scale": {"domain": ["e1","e2","f1","f2"], "range": ["#000000","#0a0aff","#000000","#0a0aff"]}, "legend": null}}},
   {"data": {"values": [{}]}, "mark": {"type": "point", "shape": "circle", "filled": false, "size": 154, "strokeWidth": 1.5, "color": "black"}, "encoding": {"x": {"datum": 486}, "y": {"datum": 367}}},
   {"data": {"values": [{}]}, "mark": {"type": "point", "shape": "circle", "filled": false, "size": 154, "strokeWidth": 1.5, "color": "#0a0aff"}, "encoding": {"x": {"datum": 783}, "y": {"datum": 367}}},
   {"data": {"values": [{}]}, "mark": {"type": "text", "text": "expt", "fontSize": 23, "align": "left", "baseline": "middle", "color": "black"}, "encoding": {"x": {"datum": 981}, "y": {"datum": 367}}},
   {"data": {"values": [{}]}, "mark": {"type": "rule", "strokeWidth": 3, "color": "black"}, "encoding": {"x": {"datum": 410}, "x2": {"datum": 552}, "y": {"datum": 313}}},
   {"data": {"values": [{}]}, "mark": {"type": "rule", "strokeWidth": 3, "color": "#0a0aff"}, "encoding": {"x": {"datum": 706}, "x2": {"datum": 849}, "y": {"datum": 313}}},
   {"data": {"values": [{}]}, "mark": {"type": "text", "text": "fit", "fontSize": 23, "align": "left", "baseline": "middle", "color": "black"}, "encoding": {"x": {"datum": 981}, "y": {"datum": 313}}}
  ]}
 ], "spacing": 46, "bounds": "flush"},
 {"hconcat": [
  {"width": 146, "height": 226, "layer": [
   {"data": {"values": [{}]}, "mark": {"type": "rule", "strokeDash": [6, 5], "strokeWidth": 2.5, "color": "black"},
    "encoding": {
     "x": {"datum": 0, "type": "quantitative", "scale": {"domain": [0, 1600], "nice": false}, "axis": {"values": [0,200,400,600,800,1000,1200,1400,1600], "format": "d", "labelExpr": "datum.value % 800 === 0 ? datum.label : ''", "tickSize": {"condition": {"test": "datum.value % 800 === 0", "value": 10}, "value": 7}, "labelPadding": 11, "labelFlush": false, "labelOverlap": false, "title": null}},
     "x2": {"datum": 1743},
     "y": {"datum": 0, "type": "quantitative", "scale": {"domain": [-0.37, 1.09], "nice": false}, "axis": {"values": [-0.25, 0, 0.25, 0.5, 0.75, 1], "labelExpr": "abs(datum.value) < 0.001 ? '0' : abs(datum.value - 1) < 0.001 ? '1' : ''", "tickSize": {"condition": {"test": "abs(datum.value) < 0.001 || abs(datum.value - 1) < 0.001", "value": 9}, "value": 6}, "labelPadding": 4, "labelOverlap": false, "title": null}}}},
   {"data": {"name": "drude"}, "mark": {"type": "line", "strokeWidth": 2.6},
    "encoding": {"x": {"field": "x", "type": "quantitative"}, "y": {"field": "y", "type": "quantitative"}, "color": {"field": "s", "type": "nominal", "scale": {"domain": ["e1","e2","f1","f2"], "range": ["#000000","#0a0aff","#000000","#0a0aff"]}, "legend": null}}},
   {"data": {"name": "b1"}, "mark": {"type": "point", "shape": "circle", "filled": false, "size": 18, "strokeWidth": 1},
    "encoding": {"x": {"field": "x", "type": "quantitative"}, "y": {"field": "y", "type": "quantitative"}, "color": {"field": "s", "type": "nominal", "scale": {"domain": ["e1","e2","f1","f2"], "range": ["#000000","#0a0aff","#000000","#0a0aff"]}, "legend": null}}},
   {"data": {"values": [{}]}, "mark": {"type": "point", "shape": "circle", "filled": false, "size": 133, "strokeWidth": 1.5, "color": "black"}, "encoding": {"x": {"datum": 449}, "y": {"datum": 1.072}}},
   {"data": {"values": [{}]}, "mark": {"type": "point", "shape": "circle", "filled": false, "size": 133, "strokeWidth": 1.5, "color": "#0a0aff"}, "encoding": {"x": {"datum": 756}, "y": {"datum": 1.072}}},
   {"data": {"values": [{}]}, "mark": {"type": "text", "text": "simul.", "fontSize": 23, "align": "left", "baseline": "middle", "color": "black"}, "encoding": {"x": {"datum": 942}, "y": {"datum": 1.072}}},
   {"data": {"values": [{}]}, "mark": {"type": "rule", "strokeWidth": 3, "color": "black"}, "encoding": {"x": {"datum": 373}, "x2": {"datum": 504}, "y": {"datum": 0.911}}},
   {"data": {"values": [{}]}, "mark": {"type": "rule", "strokeWidth": 3, "color": "#0a0aff"}, "encoding": {"x": {"datum": 690}, "x2": {"datum": 822}, "y": {"datum": 0.911}}},
   {"data": {"values": [{}]}, "mark": {"type": "text", "text": "Drude", "fontSize": 23, "align": "left", "baseline": "middle", "color": "black"}, "encoding": {"x": {"datum": 942}, "y": {"datum": 0.911}}},
   {"data": {"values": [{}]}, "mark": {"type": "text", "text": "σ", "font": "Liberation Serif", "fontSize": 23, "align": "left", "baseline": "middle", "color": "black"}, "encoding": {"x": {"datum": 274}, "y": {"datum": 0.691}}},
   {"data": {"values": [{}]}, "mark": {"type": "text", "text": "1", "font": "Liberation Serif", "fontSize": 15, "align": "left", "baseline": "middle", "color": "black"}, "encoding": {"x": {"datum": 410}, "y": {"datum": 0.655}}},
   {"data": {"values": [{}]}, "mark": {"type": "text", "text": "σ", "font": "Liberation Serif", "fontSize": 23, "align": "left", "baseline": "middle", "color": "#0a0aff"}, "encoding": {"x": {"datum": 888}, "y": {"datum": 0.40}}},
   {"data": {"values": [{}]}, "mark": {"type": "text", "text": "2", "font": "Liberation Serif", "fontSize": 15, "align": "left", "baseline": "middle", "color": "#0a0aff"}, "encoding": {"x": {"datum": 1020}, "y": {"datum": 0.36}}},
   {"data": {"values": [{}]}, "mark": {"type": "text", "text": "b", "fontSize": 29, "fontWeight": "bold", "align": "center", "baseline": "alphabetic", "color": "black"}, "encoding": {"x": {"datum": -614}, "y": {"datum": 1.266}}},
   {"data": {"values": [{}]}, "mark": {"type": "text", "text": "L", "font": "Liberation Serif", "fontStyle": "italic", "fontSize": 23, "align": "left", "baseline": "alphabetic", "color": "black"}, "encoding": {"x": {"datum": 285}, "y": {"datum": 1.266}}},
   {"data": {"values": [{}]}, "mark": {"type": "text", "text": "→", "font": "DejaVu Sans", "fontSize": 31, "align": "left", "baseline": "alphabetic", "color": "black"}, "encoding": {"x": {"datum": 500}, "y": {"datum": 1.266}}},
   {"data": {"values": [{}]}, "mark": {"type": "text", "text": "∞", "font": "DejaVu Sans", "fontSize": 32, "align": "left", "baseline": "alphabetic", "color": "black"}, "encoding": {"x": {"datum": 866}, "y": {"datum": 1.266}}},
   {"data": {"values": [{}]}, "mark": {"type": "text", "text": "σ/σ", "fontSize": 23, "angle": 270, "align": "center", "baseline": "middle", "color": "black"}, "encoding": {"x": {"datum": -630}, "y": {"datum": 0.2}}},
   {"data": {"values": [{}]}, "mark": {"type": "text", "text": "0,Drude", "fontSize": 15, "angle": 270, "align": "center", "baseline": "middle", "color": "black"}, "encoding": {"x": {"datum": -581}, "y": {"datum": 0.462}}}
  ]},
  {"width": 152, "height": 226, "layer": [
   {"data": {"values": [{}]}, "mark": {"type": "rule", "strokeDash": [6, 5], "strokeWidth": 2.5, "color": "black"},
    "encoding": {
     "x": {"datum": -360, "type": "quantitative", "scale": {"domain": [0, 1600], "nice": false}, "axis": {"values": [0,200,400,600,800,1000,1200,1400,1600], "format": "d", "labelExpr": "datum.value % 800 === 0 ? datum.label : ''", "tickSize": {"condition": {"test": "datum.value % 800 === 0", "value": 10}, "value": 7}, "labelPadding": 11, "labelFlush": false, "labelOverlap": false, "title": "wavenumber / cm⁻¹", "titlePadding": 13}},
     "x2": {"datum": 1690},
     "y": {"datum": 0, "type": "quantitative", "scale": {"domain": [-0.37, 1.09], "nice": false}, "axis": {"domain": false, "ticks": false, "labels": false, "title": null}}}},
   {"data": {"name": "drude"}, "mark": {"type": "line", "strokeWidth": 2.6},
    "encoding": {"x": {"field": "x", "type": "quantitative"}, "y": {"field": "y", "type": "quantitative"}, "color": {"field": "s", "type": "nominal", "scale": {"domain": ["e1","e2","f1","f2"], "range": ["#000000","#0a0aff","#000000","#0a0aff"]}, "legend": null}}},
   {"data": {"name": "b2"}, "mark": {"type": "point", "shape": "circle", "filled": false, "size": 18, "strokeWidth": 1},
    "encoding": {"x": {"field": "x", "type": "quantitative"}, "y": {"field": "y", "type": "quantitative"}, "color": {"field": "s", "type": "nominal", "scale": {"domain": ["e1","e2","f1","f2"], "range": ["#000000","#0a0aff","#000000","#0a0aff"]}, "legend": null}}},
   {"data": {"values": [{}]}, "mark": {"type": "text", "text": "L", "font": "Liberation Serif", "fontStyle": "italic", "fontSize": 23, "align": "left", "baseline": "alphabetic", "color": "black"}, "encoding": {"x": {"datum": 144}, "y": {"datum": 1.266}}},
   {"data": {"values": [{}]}, "mark": {"type": "text", "text": "= 200 nm", "fontSize": 23, "align": "left", "baseline": "alphabetic", "color": "black"}, "encoding": {"x": {"datum": 343}, "y": {"datum": 1.266}}}
  ]},
  {"width": 145, "height": 226, "layer": [
   {"data": {"values": [{}]}, "mark": {"type": "rule", "strokeDash": [6, 5], "strokeWidth": 2.5, "color": "black"},
    "encoding": {
     "x": {"datum": -176, "type": "quantitative", "scale": {"domain": [0, 1600], "nice": false}, "axis": {"values": [0,200,400,600,800,1000,1200,1400,1600], "format": "d", "labelExpr": "datum.value % 800 === 0 ? datum.label : ''", "tickSize": {"condition": {"test": "datum.value % 800 === 0", "value": 10}, "value": 7}, "labelPadding": 11, "labelFlush": false, "labelOverlap": false, "title": null}},
     "x2": {"datum": 1590},
     "y": {"datum": 0, "type": "quantitative", "scale": {"domain": [-0.37, 1.09], "nice": false}, "axis": {"domain": false, "ticks": false, "labels": false, "title": null}}}},
   {"data": {"name": "b3"}, "mark": {"type": "line", "strokeWidth": 2.2},
    "encoding": {"x": {"field": "x", "type": "quantitative"}, "y": {"field": "y", "type": "quantitative"}, "stroke": {"field": "s", "type": "nominal", "scale": {"domain": ["5","8","10","20","50"], "range": ["#000000","#5e0000","#a30000","#ff0000","#ff7a00"]}, "legend": null}}},
   {"data": {"values": [{}]}, "mark": {"type": "text", "text": "real part", "fontSize": 23, "align": "left", "baseline": "alphabetic", "color": "black"}, "encoding": {"x": {"datum": 140}, "y": {"datum": 1.266}}},
   {"data": {"values": [{}]}, "mark": {"type": "text", "text": "σ", "font": "Liberation Serif", "fontSize": 23, "align": "left", "baseline": "alphabetic", "color": "black"}, "encoding": {"x": {"datum": 1160}, "y": {"datum": 1.266}}},
   {"data": {"values": [{}]}, "mark": {"type": "text", "text": "1", "font": "Liberation Serif", "fontSize": 15, "align": "left", "baseline": "alphabetic", "color": "black"}, "encoding": {"x": {"datum": 1318}, "y": {"datum": 1.234}}},
   {"data": {"values": [{}]}, "mark": {"type": "text", "text": "L", "font": "Liberation Serif", "fontStyle": "italic", "fontSize": 22, "align": "left", "baseline": "middle", "color": "black"}, "encoding": {"x": {"datum": 274}, "y": {"datum": 0.985}}},
   {"data": {"values": [{}]}, "mark": {"type": "text", "text": "/ nm =", "fontSize": 21, "align": "left", "baseline": "middle", "color": "black"}, "encoding": {"x": {"datum": 440}, "y": {"datum": 0.985}}},
   {"data": {"values": [{}]}, "mark": {"type": "rule", "strokeWidth": 3, "color": "#000000"}, "encoding": {"x": {"datum": 318}, "x2": {"datum": 440}, "y": {"datum": 0.846}}},
   {"data": {"values": [{}]}, "mark": {"type": "text", "text": "5", "fontSize": 21, "align": "center", "baseline": "middle", "color": "black"}, "encoding": {"x": {"datum": 728}, "y": {"datum": 0.846}}},
   {"data": {"values": [{}]}, "mark": {"type": "rule", "strokeWidth": 3, "color": "#5e0000"}, "encoding": {"x": {"datum": 994}, "x2": {"datum": 1105}, "y": {"datum": 0.846}}},
   {"data": {"values": [{}]}, "mark": {"type": "text", "text": "8", "fontSize": 21, "align": "center", "baseline": "middle", "color": "black"}, "encoding": {"x": {"datum": 1387}, "y": {"datum": 0.846}}},
   {"data": {"values": [{}]}, "mark": {"type": "rule", "strokeWidth": 3, "color": "#a30000"}, "encoding": {"x": {"datum": 318}, "x2": {"datum": 440}, "y": {"datum": 0.704}}},
   {"data": {"values": [{}]}, "mark": {"type": "text", "text": "10", "fontSize": 21, "align": "center", "baseline": "middle", "color": "black"}, "encoding": {"x": {"datum": 728}, "y": {"datum": 0.704}}},
   {"data": {"values": [{}]}, "mark": {"type": "rule", "strokeWidth": 3, "color": "#ff0000"}, "encoding": {"x": {"datum": 994}, "x2": {"datum": 1105}, "y": {"datum": 0.704}}},
   {"data": {"values": [{}]}, "mark": {"type": "text", "text": "20", "fontSize": 21, "align": "center", "baseline": "middle", "color": "black"}, "encoding": {"x": {"datum": 1387}, "y": {"datum": 0.704}}},
   {"data": {"values": [{}]}, "mark": {"type": "rule", "strokeWidth": 3, "color": "#ff7a00"}, "encoding": {"x": {"datum": 318}, "x2": {"datum": 440}, "y": {"datum": 0.562}}},
   {"data": {"values": [{}]}, "mark": {"type": "text", "text": "50", "fontSize": 21, "align": "center", "baseline": "middle", "color": "black"}, "encoding": {"x": {"datum": 728}, "y": {"datum": 0.562}}}
  ]}
 ], "spacing": 46, "bounds": "flush"}
]
}
